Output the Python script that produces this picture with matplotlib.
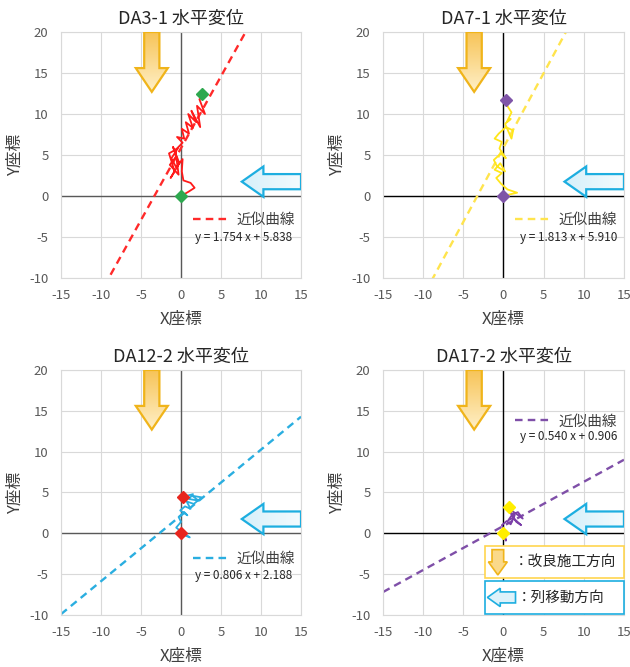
import numpy as np
import matplotlib
matplotlib.use("Agg")
import matplotlib.pyplot as plt
from matplotlib.patches import Polygon, Rectangle
from matplotlib.colors import LinearSegmentedColormap

plt.rcParams['font.family'] = ['Noto Sans CJK JP', 'DejaVu Sans']
plt.rcParams['axes.unicode_minus'] = False

# ---------------- data ----------------
titles = ["DA3-1 水平変位", "DA7-1 水平変位", "DA12-2 水平変位", "DA17-2 水平変位"]
xticks = [-15, -10, -5, 0, 5, 10, 15]
yticks = [-10, -5, 0, 5, 10, 15, 20]

slopes = [1.754, 1.813, 0.806, 0.540]
intercepts = [5.838, 5.910, 2.188, 0.906]
equations = ["y = 1.754 x + 5.838", "y = 1.813 x + 5.910",
             "y = 0.806 x + 2.188", "y = 0.540 x + 0.906"]

da3_x = [0, 0.9, 1.7, 1.2, 0.3, 0.1, 0.2, -0.6, -1.2, -0.4, -1.5, -0.8, -1.3, -0.2,
         -1.0, -0.6, -1.4, -0.3, -0.7, 0.2, -0.5, 0.4, 0.1, 1.0, 0.6, 1.5, 0.9, 1.9,
         1.3, 2.4, 2.0, 3.0, 2.3, 2.9, 2.6]
da3_y = [0, 0.5, 1.0, 1.6, 1.9, 3.0, 4.5, 3.5, 4.6, 5.8, 5.2, 3.0, 2.2, 4.0,
         6.0, 4.8, 3.8, 2.6, 5.6, 6.5, 7.2, 7.0, 8.2, 7.6, 9.0, 8.3, 10.0, 9.0,
         10.4, 8.4, 11.0, 10.0, 11.8, 12.2, 12.5]

da7_x = [0, 0.8, 1.7, 0.5, -0.3, -0.9, -0.2, -1.1, -0.4, 0.2, -0.8, -1.2, -0.3, 0.3,
         -0.5, -0.2, -1.1, -0.6, 0.3, 1.2, 1.0, 0.2, 0.9, 0.4, 1.0, 0.6, 0.4]
da7_y = [0, 0.2, 0.4, 0.8, 1.5, 2.2, 2.8, 3.2, 4.0, 3.0, 3.6, 4.4, 5.2, 4.6,
         5.8, 6.6, 7.0, 7.6, 8.4, 8.0, 7.0, 8.8, 9.4, 9.0, 10.2, 10.8, 11.2]

da12_x = [0, 0.6, 1.1, 0.3, -0.6, 0.0, -0.3, 0.4, 0.8, -0.1, 0.5, 1.2, 0.7, 1.6,
          2.6, 1.4, 2.2, 1.0, 1.5, 0.4]
da12_y = [0, -0.3, -0.5, 0.0, 0.7, 1.4, 2.0, 2.6, 2.2, 2.8, 3.3, 3.0, 3.9, 3.6,
          4.4, 4.6, 4.0, 4.2, 4.8, 4.5]

da17_x = [0, 0.3, 0.1, -0.2, 0.4, 0.9, 1.4, 0.8, 1.6, 2.2, 1.2, 0.6, 1.1, 1.8, 2.4, 1.0, 0.7]
da17_y = [0, -0.9, 0.3, 1.0, 1.5, 1.1, 2.2, 2.6, 1.4, 1.0, 1.9, 1.6, 2.3, 2.6, 1.8, 2.8, 3.2]

start_pts = [(0, 0), (0, 0), (0, 0), (0, 0)]
end_pts = [(2.6, 12.5), (0.3, 11.7), (0.3, 4.5), (0.7, 3.2)]

traces = [(da3_x, da3_y), (da7_x, da7_y), (da12_x, da12_y), (da17_x, da17_y)]
trace_colors = ['#FF1A1A', '#FFE61A', '#2AAEE0', '#7B3FA8']
fit_colors = ['#FF2A2A', '#FFE44D', '#2AAEE0', '#7F4FA8']
marker_colors = ['#2EA84F', '#7F55A8', '#E8261E', '#FFEE00']
axis_colors = ['#595959', '#000000', '#595959', '#000000']

legend_pos = [(0.975, 0.236), (0.971, 0.236), (0.975, 0.229), (0.971, 0.79)]
eq_pos = [(0.962, 0.163), (0.971, 0.163), (0.962, 0.160), (0.971, 0.727)]

rects = [[0.0968, 0.5832, 0.381, 0.3688],
         [0.6079, 0.5832, 0.3825, 0.3688],
         [0.0968, 0.0780, 0.381, 0.3673],
         [0.6079, 0.0780, 0.3825, 0.3673]]

YELLOW_EDGE = '#F0B41A'
BLUE_EDGE = '#1DAEE0'


def grad_poly(ax, verts, c1, c2, vertical, edge, lw=1.6, z=4):
    poly = Polygon(verts, closed=True, facecolor='none', edgecolor=edge,
                   lw=lw, zorder=z + 0.5, joinstyle='miter')
    ax.add_patch(poly)
    xs = [v[0] for v in verts]
    ys = [v[1] for v in verts]
    g = np.linspace(0, 1, 256)
    img = g.reshape(-1, 1) if vertical else g.reshape(1, -1)
    cmap = LinearSegmentedColormap.from_list('g', [c1, c2])
    im = ax.imshow(img, extent=[min(xs), max(xs), min(ys), max(ys)],
                   cmap=cmap, origin='upper', aspect='auto', zorder=z,
                   interpolation='bilinear')
    im.set_clip_path(poly)


def down_arrow(cx, top, head_y, tip, bw, hw):
    return [(cx - bw / 2, top), (cx + bw / 2, top), (cx + bw / 2, head_y),
            (cx + hw / 2, head_y), (cx, tip), (cx - hw / 2, head_y),
            (cx - bw / 2, head_y)]


def left_arrow(tip_x, cy, head_x, right, bh, hh):
    return [(right, cy + bh / 2), (head_x, cy + bh / 2), (head_x, cy + hh / 2),
            (tip_x, cy), (head_x, cy - hh / 2), (head_x, cy - bh / 2),
            (right, cy - bh / 2)]


fig = plt.figure(figsize=(6.3, 6.67), dpi=100)

for i in range(4):
    ax = fig.add_axes(rects[i])
    ax.set_xlim(-15, 15)
    ax.set_ylim(-10, 20)
    ax.set_xticks(xticks)
    ax.set_yticks(yticks)
    ax.grid(True, color='#D9D9D9', lw=0.8, zorder=0)
    ax.set_axisbelow(True)
    for s in ax.spines.values():
        s.set_color('#D9D9D9')
        s.set_linewidth(0.8)
    ax.tick_params(length=0, labelsize=9.5, labelcolor='#595959')
    ax.tick_params(axis='x', pad=8)
    ax.tick_params(axis='y', pad=9)
    ax.axhline(0, color=axis_colors[i], lw=1.0, zorder=1)
    ax.axvline(0, color=axis_colors[i], lw=1.0, zorder=1)
    ax.set_title(titles[i], fontsize=13, color='#262626', pad=6)
    ax.set_xlabel("X座標", fontsize=12, color='#404040', labelpad=6)
    ax.set_ylabel("Y座標", fontsize=12, color='#404040', labelpad=4)

    # fitted line
    xl = np.array([-15.0, 15.0])
    yl = slopes[i] * xl + intercepts[i]
    fit, = ax.plot(xl, yl, color=fit_colors[i], lw=1.7, ls=(0, (3.2, 2.2)), zorder=2)

    # direction arrows
    grad_poly(ax, down_arrow(-3.65, 20, 15.6, 12.7, 1.9, 4.0),
              '#F7C458', '#FFF0C8', True, YELLOW_EDGE)
    grad_poly(ax, left_arrow(7.6, 1.75, 10.3, 15.0, 1.85, 3.7),
              '#D6F0FA', '#F4FBFE', False, BLUE_EDGE)

    # trajectory
    tx, ty = traces[i]
    ax.plot(tx, ty, color=trace_colors[i], lw=1.3, zorder=3)
    for (px, py) in (start_pts[i], end_pts[i]):
        ax.plot([px], [py], marker='D', ms=6.5, color=marker_colors[i],
                mec=marker_colors[i], zorder=6, ls='none')

    leg = ax.legend([fit], ["近似曲線"], loc='center right',
                    bbox_to_anchor=legend_pos[i], frameon=False, fontsize=10.5,
                    handlelength=2.5, handletextpad=0.5, borderpad=0,
                    borderaxespad=0)
    for t in leg.get_texts():
        t.set_color('#404040')
    ax.text(eq_pos[i][0], eq_pos[i][1], equations[i], transform=ax.transAxes,
            ha='right', va='center', fontsize=8.5, color='#262626', zorder=7)

    if i == 3:
        # legend boxes for arrows
        ax.add_patch(Rectangle((-2.25, -5.5), 17.2, 4.0, facecolor='white',
                               edgecolor='#FFD54F', lw=1.2, zorder=8, clip_on=False))
        ax.add_patch(Rectangle((-2.25, -9.9), 17.2, 4.0, facecolor='white',
                               edgecolor=BLUE_EDGE, lw=1.2, zorder=8, clip_on=False))
        ax.add_patch(Polygon(down_arrow(-0.7, -2.0, -3.5, -5.1, 1.45, 2.35),
                             closed=True, facecolor='#FAD98A',
                             edgecolor=YELLOW_EDGE, lw=1.2, zorder=9))
        ax.add_patch(Polygon(left_arrow(-2.0, -7.85, -0.4, 1.5, 1.35, 2.25),
                             closed=True, facecolor='#DDF2FA',
                             edgecolor=BLUE_EDGE, lw=1.2, zorder=9))
        ax.text(1.3, -3.55, "：改良施工方向", fontsize=10.5, color='#262626',
                va='center', ha='left', zorder=10)
        ax.text(1.7, -7.9, "：列移動方向", fontsize=10.5, color='#262626',
                va='center', ha='left', zorder=10)

    ax.set_xlim(-15, 15)
    ax.set_ylim(-10, 20)

fig.savefig("out.png", dpi=100)
